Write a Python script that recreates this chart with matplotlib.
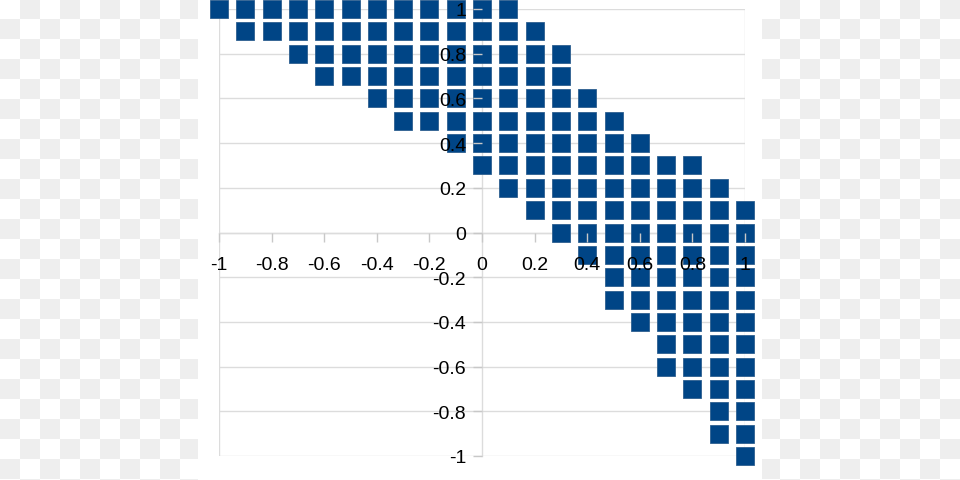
import numpy as np
import matplotlib
matplotlib.use('Agg')
import matplotlib.pyplot as plt
from matplotlib.colors import ListedColormap
from matplotlib.patches import Rectangle

plt.rcParams['font.family'] = ['Liberation Sans', 'DejaVu Sans']
plt.rcParams['axes.unicode_minus'] = False

# ===============================================================================
# data: one list of x values per row of markers, top row first

row_y = [1.0, 0.9, 0.8, 0.7, 0.6, 0.5, 0.4, 0.3, 0.2, 0.1, 0.0,
         -0.1, -0.2, -0.3, -0.4, -0.5, -0.6, -0.7, -0.8, -0.9, -1.0]
row_x = [
    [-1.0, -0.9, -0.8, -0.7, -0.6, -0.5, -0.4, -0.3, -0.2, -0.1, 0.0, 0.1],
    [-0.9, -0.8, -0.7, -0.6, -0.5, -0.4, -0.3, -0.2, -0.1, 0.0, 0.1, 0.2],
    [-0.7, -0.6, -0.5, -0.4, -0.3, -0.2, -0.1, 0.0, 0.1, 0.2, 0.3],
    [-0.6, -0.5, -0.4, -0.3, -0.2, -0.1, 0.0, 0.1, 0.2, 0.3],
    [-0.4, -0.3, -0.2, -0.1, 0.0, 0.1, 0.2, 0.3, 0.4],
    [-0.3, -0.2, -0.1, 0.0, 0.1, 0.2, 0.3, 0.4, 0.5],
    [-0.1, 0.0, 0.1, 0.2, 0.3, 0.4, 0.5, 0.6],
    [0.0, 0.1, 0.2, 0.3, 0.4, 0.5, 0.6, 0.7, 0.8],
    [0.1, 0.2, 0.3, 0.4, 0.5, 0.6, 0.7, 0.8, 0.9],
    [0.2, 0.3, 0.4, 0.5, 0.6, 0.7, 0.8, 0.9, 1.0],
    [0.3, 0.4, 0.5, 0.6, 0.7, 0.8, 0.9, 1.0],
    [0.4, 0.5, 0.6, 0.7, 0.8, 0.9, 1.0],
    [0.5, 0.6, 0.7, 0.8, 0.9, 1.0],
    [0.5, 0.6, 0.7, 0.8, 0.9, 1.0],
    [0.6, 0.7, 0.8, 0.9, 1.0],
    [0.7, 0.8, 0.9, 1.0],
    [0.7, 0.8, 0.9, 1.0],
    [0.8, 0.9, 1.0],
    [0.9, 1.0],
    [0.9, 1.0],
    [1.0],
]

x_ticks = [-1, -0.8, -0.6, -0.4, -0.2, 0, 0.2, 0.4, 0.6, 0.8, 1]
x_labels = ['-1', '-0.8', '-0.6', '-0.4', '-0.2', '0', '0.2', '0.4', '0.6', '0.8', '1']
y_ticks = [-1, -0.8, -0.6, -0.4, -0.2, 0, 0.2, 0.4, 0.6, 0.8, 1]
y_labels = ['-1', '-0.8', '-0.6', '-0.4', '-0.2', '0', '0.2', '0.4', '0.6', '0.8', '1']

xs = []
ys = []
for y, row in zip(row_y, row_x):
    xs += row
    ys += [y] * len(row)

# ===============================================================================

W, H = 960, 481
fig = plt.figure(figsize=(W / 100, H / 100), dpi=100)

# checkered background with a white panel behind the chart
bg = fig.add_axes([0, 0, 1, 1])
ii, jj = np.indices((25, 48))
bg.imshow((ii + jj) % 2, cmap=ListedColormap(['white', '#eeeeee']),
          extent=(0, 960, 500, 0), interpolation='nearest', aspect='auto')
bg.add_patch(Rectangle((198, 0), 564, 481, color='white', lw=0))
bg.set_xlim(0, W)
bg.set_ylim(H, 0)
bg.axis('off')

ax = fig.add_axes([219 / W, 24 / H, 526 / W, 447 / H])
ax.patch.set_alpha(0)
ax.set_axisbelow(False)  # tick labels sit on top of the markers

gridc = '#dcdcdc'
for y in y_ticks:
    ax.axhline(y, color=gridc, lw=1, zorder=0)
for x in (-1, 1):
    ax.axvline(x, color=gridc, lw=1, zorder=0)

ax.plot(xs, ys, ls='none', marker='s', ms=12.8, mfc='#004586',
        mec='#2d5f8f', mew=0.6, clip_on=False, zorder=2)

ax.set_xlim(-1, 1)
ax.set_ylim(-1, 1)

for s in ('top', 'right'):
    ax.spines[s].set_visible(False)
ax.spines['left'].set_position(('data', 0))
ax.spines['bottom'].set_position(('data', 0))
for s in ('left', 'bottom'):
    ax.spines[s].set_color(gridc)
    ax.spines[s].set_linewidth(1)
    ax.spines[s].set_zorder(0.5)

ax.set_xticks(x_ticks)
ax.set_xticklabels(x_labels)
ax.set_yticks(y_ticks)
ax.set_yticklabels(y_labels)
ax.tick_params(axis='x', direction='out', length=6.5, width=1, color='#c8c8c8',
               pad=10.5, labelsize=14, labelcolor='black')
ax.tick_params(axis='y', direction='out', length=6.5, width=1, color='#c8c8c8',
               pad=5, labelsize=14, labelcolor='black')

fig.savefig('out.png', dpi=100)
